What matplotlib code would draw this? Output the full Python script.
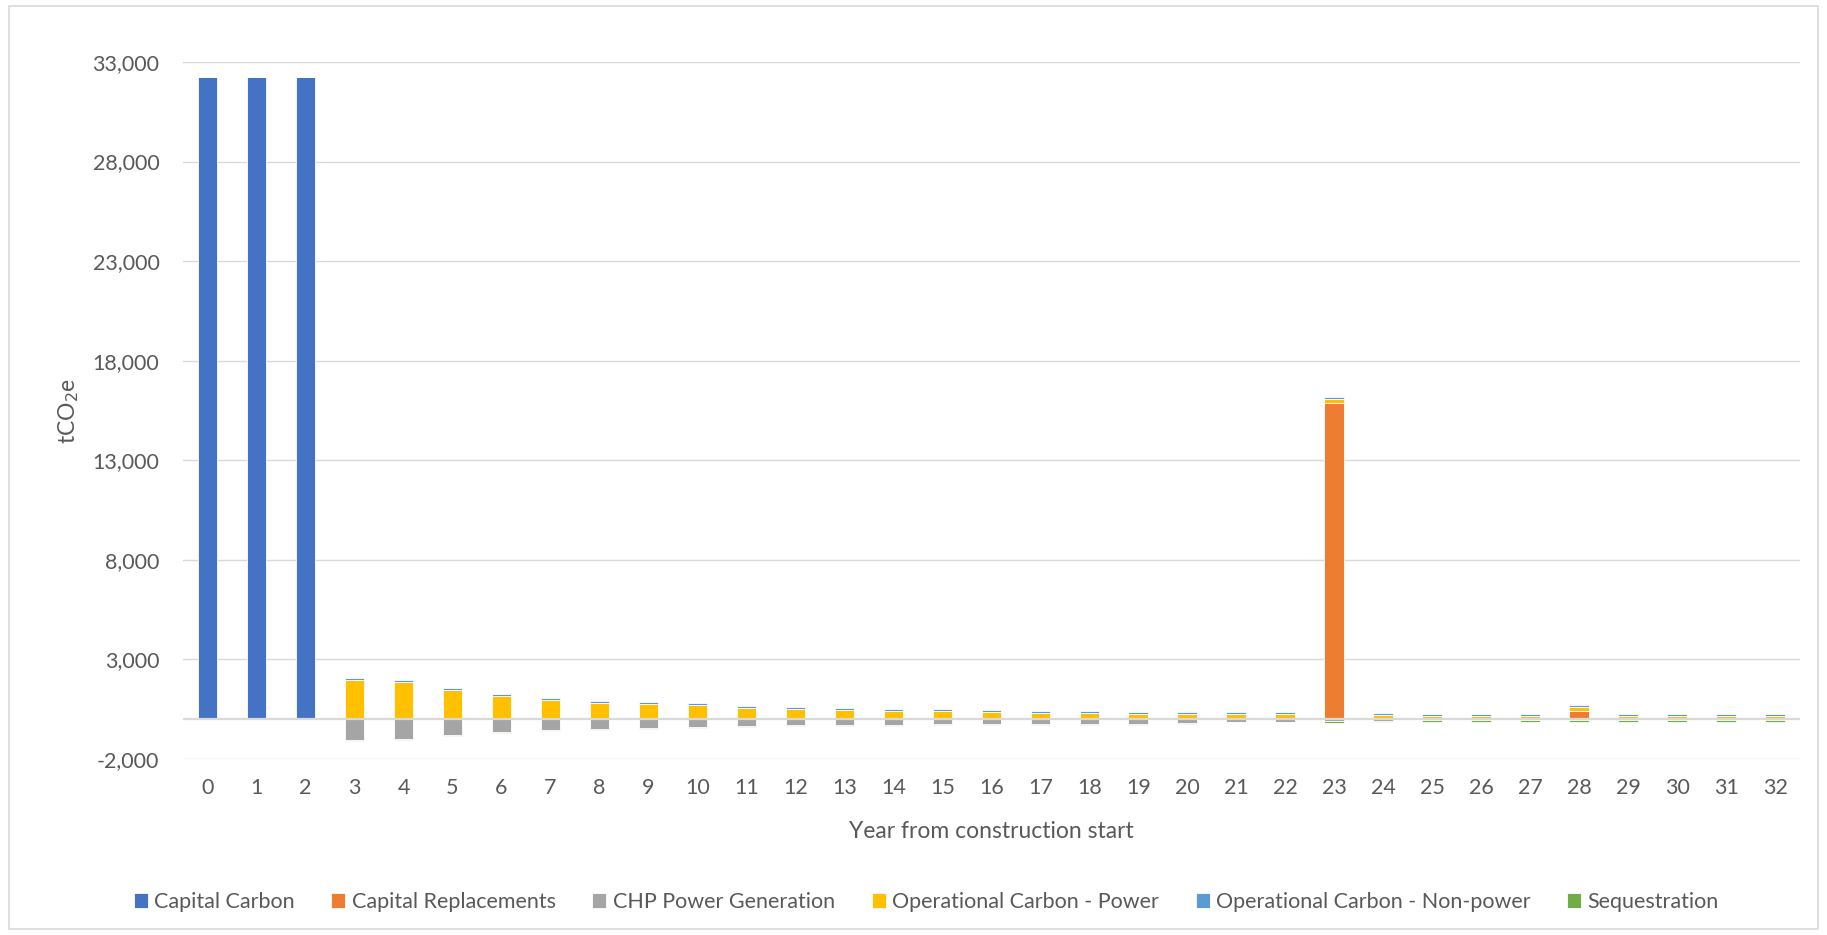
import numpy as np
import matplotlib
matplotlib.use('Agg')
import matplotlib.pyplot as plt
from matplotlib.patches import Rectangle
from matplotlib.ticker import StrMethodFormatter

plt.rcParams['font.family'] = ['Lato', 'DejaVu Sans']
plt.rcParams['axes.unicode_minus'] = False

years = list(range(33))

capital_carbon = [32250, 32250, 32250] + [0] * 30

capital_replacements = [0] * 33
capital_replacements[23] = 15890
capital_replacements[28] = 400

op_power = [0, 0, 0, 1980, 1860, 1470, 1150, 980, 830, 750,
            700, 560, 490, 470, 430, 390, 340, 300, 290, 270,
            240, 260, 240, 200, 200, 185, 185, 185, 190, 185,
            185, 185, 185]

op_nonpower = [0, 0, 0] + [100] * 30

chp_power = [0, 0, 0, -1050, -1000, -800, -630, -550, -500, -460,
             -410, -360, -310, -310, -300, -260, -250, -250, -240, -230,
             -210, -120, -120, -110, -100, -60, -60, -60, -60, -60,
             -60, -60, -60]

sequestration = [0, 0, 0] + [-40] * 20 + [-60] * 10

series = [
    ("Capital Carbon", capital_carbon, "#4472C4"),
    ("Capital Replacements", capital_replacements, "#ED7D31"),
    ("CHP Power Generation", chp_power, "#A5A5A5"),
    ("Operational Carbon - Power", op_power, "#FFC000"),
    ("Operational Carbon - Non-power", op_nonpower, "#5B9BD5"),
    ("Sequestration", sequestration, "#70AD47"),
]

text_col = "#595959"
grid_col = "#D9D9D9"

fig = plt.figure(figsize=(18.27, 9.35), dpi=100)
ax = fig.add_axes([0.1002, 0.1882, 0.8848, 0.7455])

x = np.array(years)
pos_bottom = np.zeros(len(years))
neg_bottom = np.zeros(len(years))
for name, vals, col in series:
    v = np.array(vals, dtype=float)
    bottom = np.where(v >= 0, pos_bottom, neg_bottom)
    ax.bar(x, v, width=0.4, bottom=bottom, color=col, edgecolor='white',
           linewidth=0.6, label=name, zorder=2)
    pos_bottom += np.where(v >= 0, v, 0)
    neg_bottom += np.where(v < 0, v, 0)

ax.axhline(0, color=grid_col, linewidth=1.6, zorder=3)

ax.set_xlim(-0.5, 32.5)
ax.set_ylim(-2000, 33000)
ax.set_yticks(np.arange(-2000, 33001, 5000))
ax.yaxis.set_major_formatter(StrMethodFormatter('{x:,.0f}'))
ax.set_xticks(x)
ax.grid(axis='y', color=grid_col, linewidth=1.0, zorder=0)
ax.set_axisbelow(True)
for s in ax.spines.values():
    s.set_visible(False)
ax.tick_params(length=0, labelsize=15.5, colors=text_col)
ax.tick_params(axis='y', pad=17)
ax.tick_params(axis='x', pad=14)

ax.set_xlabel("Year from construction start", fontsize=16.5, color=text_col, labelpad=16)
ax.set_ylabel("tCO$_2$e", fontsize=16.5, color=text_col, labelpad=8)

leg = fig.legend(loc='lower center', bbox_to_anchor=(0.507, 0.004), ncol=6,
                 frameon=False, fontsize=15.5, handlelength=0.65, handleheight=0.65,
                 handletextpad=0.3, columnspacing=1.7)
for t in leg.get_texts():
    t.set_color(text_col)

fig.patches.append(Rectangle((9 / 1827, 6 / 935), 1 - 18 / 1827, 1 - 12 / 935,
                             transform=fig.transFigure, fill=False,
                             edgecolor=grid_col, linewidth=1.2))

fig.savefig('out.png', dpi=100)
